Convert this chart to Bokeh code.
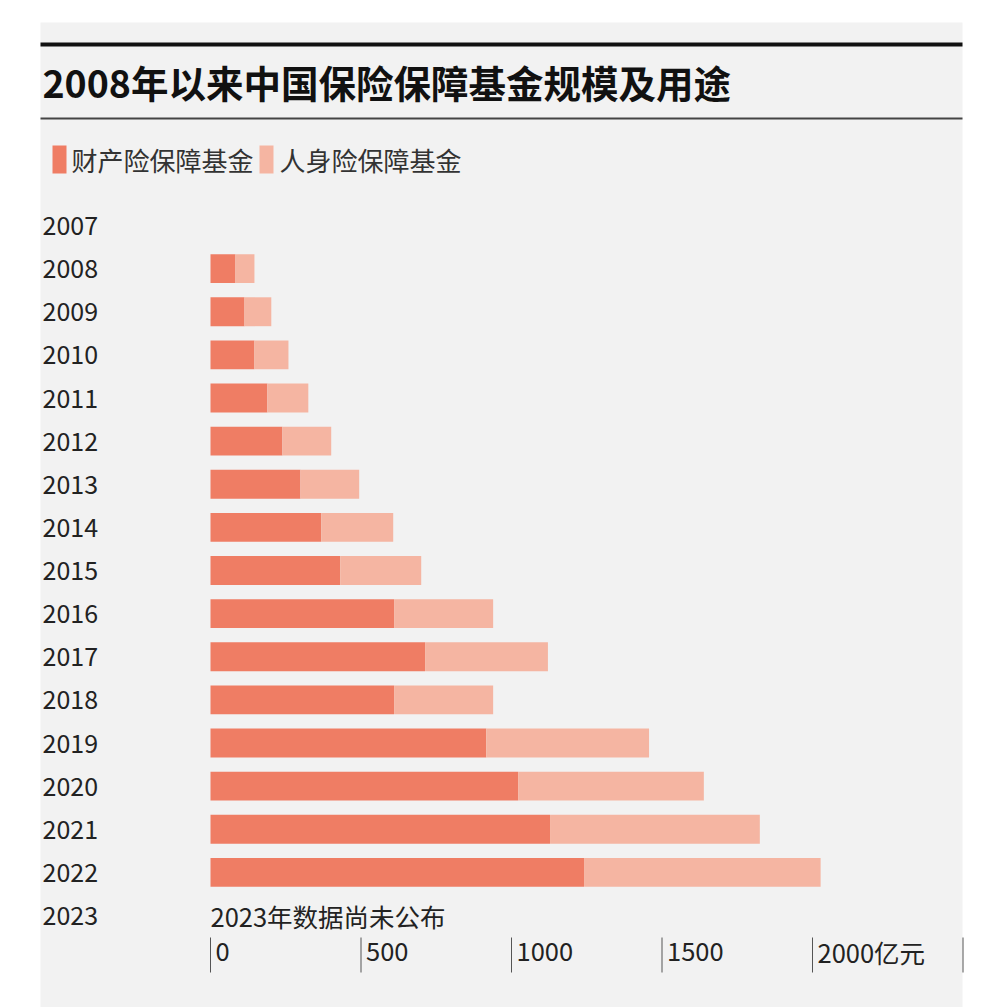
from bokeh.plotting import figure
from bokeh.models import Range1d, ColumnDataSource
from bokeh.core.properties import value
from bokeh.embed import file_html
from bokeh.resources import INLINE

# ---- data (亿元) ----
years = [2008, 2009, 2010, 2011, 2012, 2013, 2014, 2015, 2016, 2017, 2018, 2019, 2020, 2021, 2022]
property_fund = [83, 113, 146, 189, 239, 299, 368, 431, 610, 713, 610, 916, 1022, 1128, 1241]
life_fund = [63, 89, 113, 136, 162, 195, 239, 269, 329, 408, 329, 541, 617, 697, 786]
year_labels = [str(y) for y in range(2007, 2024)]
tick_values = [0, 500, 1000, 1500, 2000, 2500]
tick_labels = ["0", "500", "1000", "1500", "2000亿元", ""]
title_text = "2008年以来中国保险保障基金规模及用途"
legend_names = ["财产险保障基金", "人身险保障基金"]
note_text = "2023年数据尚未公布"

DARK = "#ef7d64"
LIGHT = "#f5b5a2"
BG = "#f2f2f2"
FONT = value("Noto Sans CJK SC")

W, H = 1000, 1007
ORG = 0  # page offset of canvas
SX = 602 / 2000.0
X0PX = 210
SY = 43.125
Y0PX = 225  # page y of 2007 row


def xd(px):
    return (px - X0PX) / SX


def yd(py):
    return 2007 + (py - Y0PX) / SY


p = figure(width=W, height=H, output_backend="svg", toolbar_location=None,
           x_range=Range1d(xd(ORG), xd(ORG + W)), y_range=Range1d(yd(ORG + H), yd(ORG)),
           min_border=0, min_border_left=0, min_border_right=0,
           min_border_top=0, min_border_bottom=0)
p.axis.visible = False
p.grid.visible = False
p.outline_line_color = None
p.background_fill_color = "white"
p.border_fill_color = "white"

# gray panel
p.quad(left=[xd(40)], right=[xd(962)], top=[yd(22)], bottom=[yd(1020)],
       fill_color=BG, line_color=None)

# rules
p.segment(x0=[xd(40)], x1=[xd(962)], y0=[yd(44)], y1=[yd(44)], line_color="#111111", line_width=4)
p.segment(x0=[xd(40)], x1=[xd(962)], y0=[yd(118)], y1=[yd(118)], line_color="#444444", line_width=2)

# title
p.text(x=[xd(42)], y=[yd(81)], text=[title_text], text_font=FONT, text_font_style="bold",
       text_font_size="37.5px", text_color="#111111", text_align="left", text_baseline="middle")

# legend
p.quad(left=[xd(52)], right=[xd(66)], top=[yd(145)], bottom=[yd(173)], fill_color=DARK, line_color=None)
p.text(x=[xd(71)], y=[yd(159)], text=[legend_names[0]], text_font=FONT, text_font_size="26px",
       text_color="#333333", text_align="left", text_baseline="middle")
p.quad(left=[xd(259)], right=[xd(273)], top=[yd(145)], bottom=[yd(173)], fill_color=LIGHT, line_color=None)
p.text(x=[xd(279)], y=[yd(159)], text=[legend_names[1]], text_font=FONT, text_font_size="26px",
       text_color="#333333", text_align="left", text_baseline="middle")

# bars
src = ColumnDataSource(dict(
    y=years,
    prop=property_fund,
    total=[a + b for a, b in zip(property_fund, life_fund)],
))
p.hbar(y="y", left=0, right="prop", height=0.67, source=src, fill_color=DARK, line_color=None)
p.hbar(y="y", left="prop", right="total", height=0.67, source=src, fill_color=LIGHT, line_color=None)

# year labels
p.text(x=[xd(42)] * len(year_labels), y=[int(s) for s in year_labels], text=year_labels,
       text_font=FONT, text_font_size="25px", text_color="#222222",
       text_align="left", text_baseline="middle")

# note for 2023
p.text(x=[0], y=[2023], text=[note_text], text_font=FONT, text_font_size="25.5px",
       text_color="#222222", text_align="left", text_baseline="middle")

# x axis ticks
p.segment(x0=tick_values, x1=tick_values, y0=[yd(937)] * len(tick_values), y1=[yd(972)] * len(tick_values),
          line_color="#555555", line_width=1)
p.text(x=tick_values, y=[yd(951)] * len(tick_values), text=tick_labels, x_offset=5,
       text_font=FONT, text_font_size="25.5px", text_color="#222222",
       text_align="left", text_baseline="middle")

open("out.html", "w").write(file_html(p, INLINE))
